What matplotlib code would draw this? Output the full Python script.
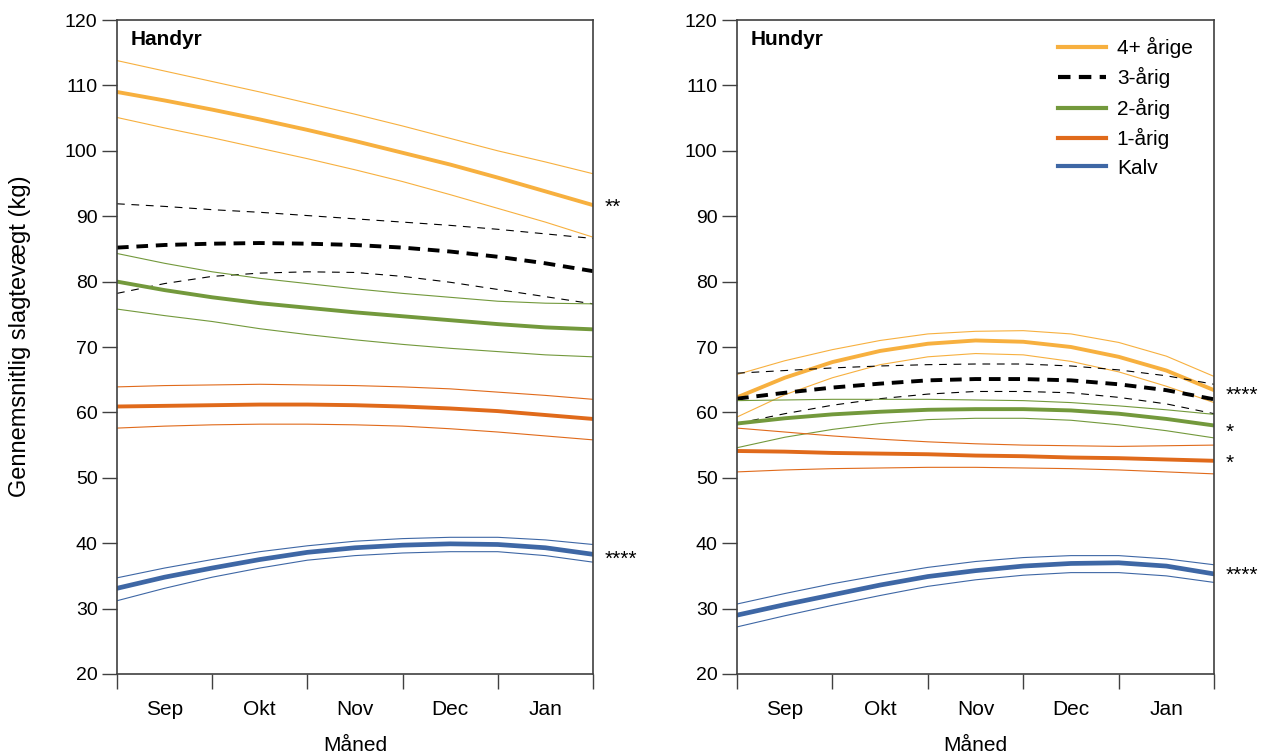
import numpy as np
import matplotlib
matplotlib.use('Agg')
from matplotlib import pyplot as plt

plt.rcParams['font.family'] = ['Liberation Sans', 'DejaVu Sans']

# x positions: start of Sep (0) to end of Jan (5), every half month
t = [0, 0.5, 1, 1.5, 2, 2.5, 3, 3.5, 4, 4.5, 5]
months = ['Sep', 'Okt', 'Nov', 'Dec', 'Jan']
groups = ['4+ årige', '3-årig', '2-årig', '1-årig', 'Kalv']

# Handyr: mean, upper, lower
han_4 = [109.0, 107.7, 106.3, 104.8, 103.2, 101.5, 99.7, 97.9, 95.9, 93.8, 91.7]
han_4_hi = [113.8, 112.2, 110.6, 109.0, 107.3, 105.6, 103.8, 101.9, 100.0, 98.3, 96.5]
han_4_lo = [105.1, 103.5, 102.0, 100.4, 98.8, 97.1, 95.3, 93.3, 91.2, 89.1, 86.8]
han_3 = [85.2, 85.6, 85.8, 85.9, 85.8, 85.6, 85.2, 84.6, 83.8, 82.8, 81.6]
han_3_hi = [91.9, 91.5, 91.0, 90.6, 90.1, 89.6, 89.1, 88.6, 88.0, 87.3, 86.6]
han_3_lo = [78.2, 79.7, 80.8, 81.3, 81.5, 81.4, 80.8, 79.9, 78.8, 77.7, 76.6]
han_2 = [80.0, 78.7, 77.6, 76.7, 76.0, 75.3, 74.7, 74.1, 73.5, 73.0, 72.7]
han_2_hi = [84.3, 82.8, 81.5, 80.5, 79.7, 78.9, 78.2, 77.6, 77.0, 76.7, 76.6]
han_2_lo = [75.8, 74.8, 73.9, 72.8, 71.9, 71.1, 70.4, 69.8, 69.3, 68.8, 68.5]
han_1 = [60.9, 61.0, 61.1, 61.2, 61.2, 61.1, 60.9, 60.6, 60.2, 59.6, 59.0]
han_1_hi = [63.9, 64.1, 64.2, 64.3, 64.2, 64.1, 63.9, 63.6, 63.1, 62.6, 62.0]
han_1_lo = [57.6, 57.9, 58.1, 58.2, 58.2, 58.1, 57.9, 57.5, 57.0, 56.4, 55.8]
han_k = [33.1, 34.8, 36.2, 37.5, 38.6, 39.3, 39.7, 39.9, 39.8, 39.3, 38.3]
han_k_hi = [34.7, 36.2, 37.5, 38.7, 39.6, 40.3, 40.7, 40.9, 40.9, 40.5, 39.8]
han_k_lo = [31.2, 33.1, 34.8, 36.2, 37.4, 38.1, 38.5, 38.7, 38.7, 38.1, 37.1]

# Hundyr: mean, upper, lower
hun_4 = [62.3, 65.3, 67.7, 69.4, 70.5, 71.0, 70.8, 70.0, 68.5, 66.4, 63.4]
hun_4_hi = [65.8, 67.9, 69.6, 71.0, 72.0, 72.4, 72.5, 72.0, 70.7, 68.6, 65.5]
hun_4_lo = [59.3, 62.7, 65.3, 67.3, 68.5, 69.0, 68.8, 67.8, 66.2, 64.0, 61.5]
hun_3 = [62.1, 63.0, 63.8, 64.4, 64.9, 65.1, 65.1, 64.9, 64.3, 63.4, 62.0]
hun_3_hi = [66.0, 66.4, 66.8, 67.1, 67.3, 67.4, 67.4, 67.1, 66.5, 65.6, 64.3]
hun_3_lo = [58.3, 59.8, 61.1, 62.1, 62.8, 63.2, 63.2, 63.0, 62.3, 61.3, 59.8]
hun_2 = [58.3, 59.1, 59.7, 60.1, 60.4, 60.5, 60.5, 60.3, 59.8, 59.0, 58.0]
hun_2_hi = [61.8, 61.9, 62.0, 62.0, 62.0, 61.9, 61.8, 61.5, 61.0, 60.4, 59.7]
hun_2_lo = [54.6, 56.2, 57.4, 58.3, 58.9, 59.1, 59.1, 58.8, 58.1, 57.2, 56.1]
hun_1 = [54.1, 54.0, 53.8, 53.7, 53.6, 53.4, 53.3, 53.1, 53.0, 52.8, 52.6]
hun_1_hi = [57.6, 57.0, 56.4, 55.9, 55.5, 55.2, 55.0, 54.9, 54.8, 54.9, 55.0]
hun_1_lo = [50.9, 51.2, 51.4, 51.5, 51.6, 51.6, 51.5, 51.4, 51.2, 50.9, 50.6]
hun_k = [29.0, 30.6, 32.1, 33.6, 34.9, 35.8, 36.5, 36.9, 37.0, 36.5, 35.3]
hun_k_hi = [30.7, 32.3, 33.8, 35.1, 36.3, 37.2, 37.8, 38.1, 38.1, 37.6, 36.7]
hun_k_lo = [27.2, 28.9, 30.5, 32.0, 33.4, 34.4, 35.1, 35.5, 35.5, 35.0, 34.0]

# significance stars: (label, y)
han_stars = [('**', 91.3), ('****', 37.5)]
hun_stars = [('****', 62.6), ('*', 57.0), ('*', 52.2), ('****', 35.1)]

colors = ['#F7B03F', 'black', '#73993C', '#E06A1B', '#3E67A5']

han = [(han_4, han_4_hi, han_4_lo), (han_3, han_3_hi, han_3_lo), (han_2, han_2_hi, han_2_lo),
       (han_1, han_1_hi, han_1_lo), (han_k, han_k_hi, han_k_lo)]
hun = [(hun_4, hun_4_hi, hun_4_lo), (hun_3, hun_3_hi, hun_3_lo), (hun_2, hun_2_hi, hun_2_lo),
       (hun_1, hun_1_hi, hun_1_lo), (hun_k, hun_k_hi, hun_k_lo)]

f = plt.figure(figsize=(12.73, 7.56), dpi=100)
ax1 = f.add_axes([0.0919, 0.1085, 0.3739, 0.865])
ax2 = f.add_axes([0.5790, 0.1085, 0.3747, 0.865])

for ax, data, title, stars in [(ax1, han, 'Handyr', han_stars), (ax2, hun, 'Hundyr', hun_stars)]:
    for i, (m, hi, lo) in enumerate(data):
        c = colors[i]
        lw = 3.4 if i == 4 else 2.8
        if i == 1:
            ax.plot(t, hi, color=c, lw=0.8, dashes=(7, 6))
            ax.plot(t, lo, color=c, lw=0.8, dashes=(7, 6))
            ax.plot(t, m, color=c, lw=lw, dashes=(3, 2), label=groups[i])
        else:
            ax.plot(t, hi, color=c, lw=0.8)
            ax.plot(t, lo, color=c, lw=0.8)
            ax.plot(t, m, color=c, lw=lw, label=groups[i])
    for s, y in stars:
        ax.text(5.12, y, s, fontsize=15, ha='left', va='center', clip_on=False)
    ax.set_xlim(0, 5)
    ax.set_ylim(20, 120)
    ax.set_yticks(np.arange(20, 121, 10))
    ax.set_xticks(np.arange(0, 6))
    ax.set_xticklabels([])
    ax.set_xticks(np.arange(0.5, 5, 1), minor=True)
    ax.set_xticklabels(months, minor=True)
    ax.tick_params(axis='x', which='major', direction='out', length=11, width=1, color='#404040')
    ax.tick_params(axis='x', which='minor', length=0, pad=19, labelsize=15)
    ax.tick_params(axis='y', direction='out', length=11, width=1, color='#404040', labelsize=14, pad=3)
    for sp in ax.spines.values():
        sp.set_color('#404040')
        sp.set_linewidth(1.2)
    ax.set_xlabel('Måned', fontsize=15, labelpad=12)
    ax.text(0.028, 0.985, title, transform=ax.transAxes, fontsize=15, fontweight='bold',
            ha='left', va='top')

ax1.set_ylabel('Gennemsnitlig slagtevægt (kg)', fontsize=17)
ax1.yaxis.set_label_coords(-0.18, 0.517)

leg = ax2.legend(loc='upper right', bbox_to_anchor=(0.977, 0.99), frameon=False, fontsize=15,
                 handlelength=2.3, handletextpad=0.5, labelspacing=0.45,
                 borderaxespad=0.2, borderpad=0.3)
for h in leg.get_lines():
    h.set_linewidth(3.0)

f.savefig('out.png', dpi=100)
